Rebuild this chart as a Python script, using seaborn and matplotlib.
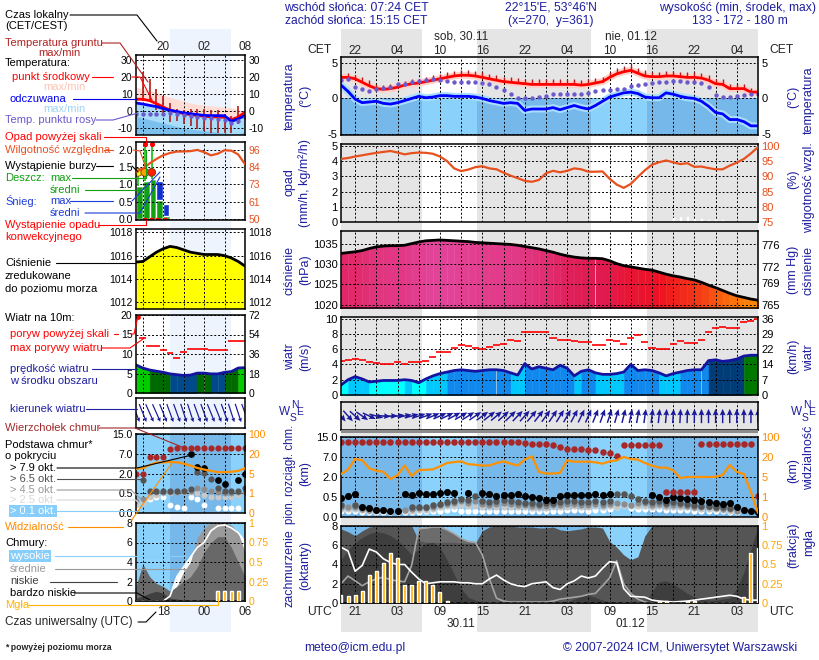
import numpy as np
import pandas as pd
import seaborn as sns
import matplotlib.pyplot as plt
from matplotlib.lines import Line2D
from matplotlib.colors import ListedColormap, BoundaryNorm, LinearSegmentedColormap, Normalize

sns.set_theme(style="white")
plt.rcParams["font.family"] = ["Liberation Sans", "DejaVu Sans"]
plt.rcParams["font.size"] = 8
plt.rcParams["axes.unicode_minus"] = False

nan = np.nan

# forecast time axis: hours since 29.11 19:00 UTC
start = pd.Timestamp("2024-11-29 19:00")
hours = np.arange(60)
days = ["2024-11-30", "2024-12-01"]
day_top = ["sob, 30.11", "nie, 01.12"]
day_bottom = ["30.11", "01.12"]
sunrise_cet, sunset_cet = "07:24", "15:15"

temp = [3.0, 3.0, 2.8, 2.3, 1.8, 1.4, 1.3, 1.4, 1.6, 1.9,
        2.1, 2.2, 2.4, 2.6, 2.8, 3.0, 3.2, 3.3, 3.3, 3.2,
        3.0, 2.8, 2.6, 2.4, 2.3, 2.2, 2.1, 2.0, 2.0, 2.0,
        2.0, 2.0, 2.0, 2.0, 1.9, 2.0, 2.2, 2.4, 3.0, 3.5,
        3.8, 4.0, 3.6, 3.2, 3.1, 3.1, 3.2, 3.2, 3.1, 3.0,
        3.0, 2.9, 2.6, 2.1, 2.0, 1.4, 1.4, 1.4, 0.9, 0.9]
feels = [1.9, 1.0, -0.1, -0.6, -0.5, -0.4, -0.7, -0.8, -0.6, -0.3,
         0.0, 0.3, 0.1, 0.2, 0.4, 0.4, 0.3, 0.3, 0.3, 0.2,
         0.0, -0.3, -0.5, -0.7, -0.6, -0.7, -1.7, -1.5, -1.5, -1.5,
         -1.3, -1.6, -1.3, -1.0, -1.3, -1.5, -1.0, -0.4, 0.2, 0.5,
         0.8, 0.9, 0.7, 0.2, 0.1, 0.1, 0.8, 0.6, 0.3, 0.1,
         0.0, -0.4, -1.1, -2.0, -2.2, -3.0, -3.0, -3.3, -3.9, -3.9]
dew = [2.6, 2.8, 1.7, 1.3, 1.1, 1.3, 1.5, 1.7, 2.0, 2.1,
       2.3, 2.5, 2.6, 2.7, 2.6, 2.5, 2.4, 2.4, 2.4, 2.3,
       2.2, 2.0, 1.7, 1.2, 0.6, 0.1, 0.1, 0.1, 0.2, 0.3,
       0.6, 0.6, 0.7, 0.7, 0.6, 0.8, 1.1, 1.2, 1.2, 1.3,
       1.4, 1.8, 1.9, 2.1, 2.2, 2.4, 2.4, 2.5, 2.5, 2.4,
       2.3, 2.2, 1.6, 0.5, 0.2, 0.2, 0.4, 0.5, 0.6, 0.7]
ground_top = [3.4, 3.6, 3.4, 3.1, 2.6, 2.1, 1.9, 2.0, 2.2, 2.5,
              2.7, 2.8, 3.0, 3.3, 3.5, 3.7, 3.9, 4.0, 4.0, 3.9,
              3.7, 3.5, 3.3, 3.1, 3.0, 2.9, 2.8, 2.8, 2.7, 2.8,
              2.7, 2.8, 2.7, 2.8, 2.6, 2.7, 2.9, 3.1, 3.7, 4.3,
              4.6, 4.9, 4.4, 4.0, 3.8, 3.8, 3.9, 3.9, 3.8, 3.7,
              3.7, 3.6, 3.3, 2.8, 2.7, 2.1, 2.1, 2.1, 1.5, 1.4]
humidity = [95.7, 96.0, 96.5, 96.9, 97.3, 97.7, 98.0, 98.3, 97.8, 97.2,
            97.6, 97.8, 97.7, 97.4, 96.5, 95.0, 92.6, 91.7, 92.2, 93.0,
            93.3, 92.6, 92.3, 91.2, 90.2, 89.4, 88.5, 88.2, 88.8, 91.0,
            91.8, 91.3, 91.8, 92.6, 92.3, 91.5, 91.5, 91.6, 89.2, 87.3,
            86.2, 87.5, 89.8, 92.0, 93.8, 94.6, 95.2, 94.6, 94.0, 94.3,
            93.1, 93.2, 92.7, 92.3, 92.3, 93.5, 94.5, 95.7, 97.5, 99.6]
precip = [0, 0, 0, 0, 0, 0, 0, 0, 0, 0,
          0, 0, 0, 0, 0, 0, 0, 0, 0, 0,
          0, 0, 0, 0, 0, 0, 0, 0, 0.02, 0.02,
          0.02, 0.02, 0.02, 0.02, 0, 0, 0, 0, 0, 0,
          0, 0, 0, 0, 0, 0, 0.03, 0.25, 0.3, 0.3,
          0.2, 0.2, 0.15, 0.15, 0.1, 0, 0, 0, 0.03, 0]
pressure = [1032.6, 1032.8, 1033.0, 1033.3, 1033.8, 1034.2, 1034.4, 1034.5, 1034.5, 1034.6,
            1035.0, 1035.4, 1035.7, 1035.8, 1035.9, 1035.8, 1035.7, 1035.6, 1035.5, 1035.3,
            1035.2, 1035.1, 1035.0, 1034.9, 1034.8, 1034.6, 1034.3, 1034.0, 1033.7, 1033.3,
            1032.9, 1032.4, 1032.0, 1031.7, 1031.5, 1031.4, 1031.4, 1031.3, 1030.8, 1030.1,
            1029.6, 1029.3, 1029.0, 1028.7, 1028.5, 1028.0, 1027.5, 1027.1, 1026.8, 1026.4,
            1026.1, 1025.5, 1024.8, 1024.2, 1023.5, 1022.8, 1022.2, 1021.8, 1021.4, 1021.1]
wind = [1.3, 2.0, 2.4, 2.1, 1.7, 1.8, 1.9, 1.9, 1.9, 2.0,
        1.9, 1.6, 2.1, 2.5, 2.8, 3.0, 3.2, 3.3, 3.2, 3.1,
        3.2, 3.3, 3.3, 3.2, 2.9, 2.6, 4.1, 3.4, 3.7, 3.5,
        3.3, 3.9, 3.5, 2.5, 3.1, 3.3, 2.9, 2.7, 2.7, 2.8,
        3.0, 4.0, 3.2, 3.3, 3.2, 2.9, 2.5, 2.8, 3.0, 3.2,
        3.3, 3.3, 4.5, 4.6, 4.4, 4.5, 4.7, 5.1, 5.2, 5.2]
gust = [4.5, 4.6, 4.7, 4.6, 4.3, 4.2, 4.1, 4.1, 4.3, 4.0,
        4.3, 4.3, 4.5, 5.0, 5.6, 5.6, 6.2, 6.5, 6.4, 6.1,
        6.0, 6.3, 6.5, 6.7, 7.2, 7.1, 8.3, 8.3, 8.3, 8.3,
        7.5, 7.2, 7.2, 7.0, 6.9, 6.9, 6.5, 6.5, 7.2, 7.0,
        6.7, 7.5, 7.8, 6.9, 6.2, 6.0, 6.0, 6.7, 7.0, 6.8,
        6.8, 7.2, 8.2, 8.7, 8.9, 8.7, 8.7, 9.6, 9.7, 9.9]
wind_dir = [320, 318, 312, 305, 295, 285, 275, 268, 262, 258,
            255, 252, 250, 248, 246, 244, 242, 240, 238, 236,
            234, 232, 230, 228, 226, 224, 222, 220, 218, 216,
            214, 212, 210, 208, 206, 204, 202, 200, 198, 196,
            194, 192, 190, 188, 187, 186, 185, 184, 183, 182,
            181, 180, 180, 180, 180, 180, 180, 180, 180, 180]
cloud_top = [12.9, 12.9, 12.9, 12.9, 12.9, 12.9, 12.9, 12.9, 12.9, 12.9,
             12.9, 12.9, 12.9, 12.9, 12.9, 12.9, 12.9, 12.9, 12.9, 12.9,
             12.9, 12.9, 12.9, 12.9, 12.9, 12.9, 12.6, 12.4, 12.2, 12.2,
             12.0, 11.2, 10.4, 10.4, 10.4, 9.7, 9.7, 9.2, 8.6, 7.3,
             12.0, 12.0, 12.0, 12.0, 12.0, 12.0, 0.9, 0.9, 0.9, 0.9,
             0.9, 12.3, 12.3, 12.3, 12.3, 12.3, 12.3, 12.3, 12.3, 0.55]
base_black = [0.48, 0.56, 0.75, 0.26, 0.22, 0.17, 0.17, 0.16, 0.16, 0.70,
              0.65, 0.78, 0.75, 0.75, 0.78, 0.85, 0.80, nan, 0.78, nan,
              0.78, 0.70, 0.56, 0.65, 0.65, 0.70, 0.56, 0.50, 0.48, 0.42,
              0.43, 0.56, 0.65, 0.65, 0.63, 0.63, 0.70, 0.63, 0.70, nan,
              nan, nan, nan, nan, 0.65, 0.50, 0.42, 0.50, 0.48, 0.46,
              0.42, 0.39, 0.37, 0.35, 0.32, 0.35, 0.26, 0.18, 0.15, 0.13]
base_dkgray = [0.29, nan, 0.30, nan, nan, nan, nan, nan, nan, nan,
               0.24, 0.26, 0.26, 0.30, 0.33, 0.38, 0.41, 0.45, 0.42, 0.55,
               0.40, 0.38, 0.40, 0.42, 0.40, 0.38, 0.36, 0.34, 0.33, 0.34,
               0.36, 0.38, 0.40, 0.40, 0.38, 0.38, 0.40, 0.38, 0.40, 0.70,
               0.70, 0.55, 0.45, 0.40, 0.38, 0.40, 0.36, 0.38, 0.36, 0.33,
               0.30, 0.28, 0.28, 0.26, 0.25, 0.22, nan, nan, nan, nan]
base_gray = [0.24, 0.25, 0.24, 0.20, 0.18, nan, nan, nan, nan, 0.18,
             0.20, 0.22, 0.22, 0.25, 0.30, 0.33, 0.35, 0.40, 0.36, 0.40,
             0.33, 0.30, 0.32, 0.34, 0.33, 0.31, 0.30, 0.28, 0.27, 0.28,
             0.30, 0.31, 0.33, 0.33, 0.31, 0.31, 0.33, 0.31, 0.33, 0.36,
             0.33, 0.30, 0.35, 0.34, 0.31, 0.33, 0.30, 0.31, 0.30, 0.28,
             0.26, 0.24, 0.24, 0.22, 0.21, 0.19, 0.15, nan, nan, nan]
base_lgray = [0.19, 0.20, 0.19, 0.17, 0.15, 0.14, 0.14, 0.14, 0.14, 0.15,
              0.16, 0.17, 0.18, 0.20, 0.24, 0.27, 0.28, 0.30, 0.28, 0.28,
              0.25, 0.24, 0.25, 0.26, 0.26, 0.25, 0.24, 0.23, 0.22, 0.23,
              0.24, 0.25, 0.26, 0.27, 0.26, 0.25, 0.27, 0.26, 0.28, 0.26,
              0.30, 0.27, 0.28, 0.27, 0.26, 0.27, 0.25, 0.26, 0.25, 0.24,
              0.22, 0.21, 0.20, 0.19, 0.18, 0.16, 0.14, nan, nan, nan]
base_white = [0.14, 0.14, 0.15, 0.13, 0.12, 0.12, 0.12, 0.12, 0.12, 0.12,
              0.13, 0.13, 0.14, 0.14, 0.16, 0.18, 0.19, 0.16, 0.16, 0.15,
              0.15, 0.15, 0.15, 0.16, 0.16, 0.16, 0.16, 0.15, 0.15, 0.16,
              0.16, 0.16, 0.17, 0.17, 0.17, 0.16, 0.17, 0.18, 0.20, 0.24,
              0.29, 0.22, 0.20, 0.19, 0.19, 0.19, 0.18, 0.18, 0.18, 0.17,
              0.16, 0.15, 0.15, 0.15, 0.14, 0.13, 0.12, nan, nan, nan]
visibility = [7.1, 10.7, 18.5, 17.5, 11.5, 9.7, 8.9, 4.6, 6.3, 13.6,
              5.8, 10.2, 10.4, 10.7, 13.0, 15.5, 16.2, 16.7, 14.6, 14.2,
              13.6, 13.6, 15.5, 16.7, 15.0, 13.6, 18.0, 23.0, 8.9, 7.6,
              7.6, 8.1, 17.5, 16.5, 16.5, 16.5, 16.0, 15.0, 16.7, 17.5,
              20.0, 18.5, 18.0, 15.5, 13.5, 12.0, 12.0, 10.0, 4.8, 5.0,
              5.0, 5.0, 5.0, 5.1, 6.5, 14.0, 8.9, 7.2, 2.0, 0.2]
cc_high = [5.8, 5.4, 3.3, 3.9, 5.6, 5.3, 4.6, 4.2, 4.0, 4.0,
           3.2, 2.5, 2.0, 2.1, 2.2, 2.2, 2.2, 2.1, 2.1, 2.0,
           2.0, 2.5, 2.9, 2.4, 2.0, 1.8, 1.7, 2.0, 2.1, 2.2,
           1.6, 1.4, 2.0, 2.3, 2.8, 2.6, 2.8, 3.6, 4.3, 4.2,
           1.5, 0.7, 0.65, 0.6, 0.3, 0.2, 0.15, 0.1, 0.15, 0.2,
           0.3, 0.4, 0.5, 0.6, 0.7, 0.8, 0.7, 0.4, 0.3, 0.3]
cc_medium = [2.0, 2.8, 2.3, 1.8, 2.2, 2.5, 2.7, 2.4, 2.3, 2.2,
             3.9, 7.7, 7.8, 7.9, 7.9, 7.6, 7.2, 6.7, 6.4, 6.3,
             5.0, 2.5, 0.5, 0.2, 0.1, 0.1, 0.1, 0.1, 0.1, 0.1,
             0.2, 0.4, 0.5, 0.6, 0.7, 0.9, 1.0, 1.8, 2.6, 4.4,
             2.0, 1.0, 0.4, 0.1, 0, 0, 0, 0, 0, 0,
             0, 0, 0, 0, 0, 0, 0, 0, 0, 0]
cc_low = [7.7, 7.4, 7.0, 7.5, 7.9, 8.0, 8.0, 8.0, 8.0, 8.0,
          8.0, 6.5, 6.3, 6.3, 6.3, 6.3, 6.3, 6.2, 6.2, 6.2,
          7.5, 7.9, 8.0, 8.0, 8.0, 7.9, 7.9, 7.9, 7.8, 7.8,
          7.9, 7.6, 7.5, 7.6, 7.7, 7.9, 7.9, 7.8, 6.4, 5.8,
          5.0, 4.5, 4.8, 7.0, 8.0, 8.0, 8.0, 8.0, 8.0, 8.0,
          8.0, 8.0, 8.0, 8.0, 8.0, 8.0, 8.0, 8.0, 8.0, 8.0]
cc_vlow = [4.5, 5.5, 6.3, 6.8, 7.2, 7.4, 7.3, 7.0, 6.5, 5.8,
           5.0, 5.6, 6.2, 6.3, 5.8, 4.5, 3.0, 1.5, 0.6, 0.3,
           0.1, 0, 0, 0, 0, 0, 0, 0, 0, 0,
           0, 0, 0.1, 0.4, 0.7, 0.8, 0.6, 0.3, 0.1, 0,
           0, 0, 0, 0, 1.2, 2.2, 2.3, 2.0, 1.5, 1.0,
           0.6, 0.4, 0.3, 0.3, 0.4, 0.5, 1.5, 3.2, 5.6, 7.9]
fog = [0.10, 0.09, 0.10, 0.16, 0.37, 0.42, 0.52, 0.65, 0.58, 0.23,
       0.23, 0.29, 0.28, 0.23, 0.14, 0.02, 0, 0, 0, 0,
       0, 0, 0, 0, 0, 0, 0, 0, 0, 0,
       0, 0, 0, 0, 0, 0, 0, 0, 0, 0,
       0, 0, 0, 0, 0, 0.03, 0.03, 0, 0, 0.02,
       0.03, 0, 0, 0, 0, 0, 0, 0.08, 0.65, 0.72]

# legend column: sample meteogram (hours since 14 UTC, local time CEST)
s_start = pd.Timestamp("2024-06-01 14:00")
s_hours = np.arange(17)
s_temp = [7.0, 7.0, 6.2, 4.4, 2.4, 0.6, -0.4, -1.4, -2.0, -2.5, -3.0, -3.3, -3.4, -3.6, -5.0, -3.5, -0.6]
s_tmax = [14.0, 13.2, 12.2, 11.0, 9.6, 8.2, 7.0, 5.8, 4.8, 4.0, 3.5, 3.1, 2.7, 2.4, 2.0, 1.0, -0.6]
s_feel = [4.8, 4.2, 3.4, 2.7, 1.5, 0.5, -0.2, -1.0, -1.5, -2.0, -2.5, -2.6, -2.6, -2.7, -6.0, -4.5, -2.6]
s_fmin = [-3.0, -4.0, -5.0, -6.0, -7.0, -8.0, -9.0, -10.0, -10.5, -11.0, -11.5, -12.0, -12.5, -13.0, -13.5, -13.5, -12.0]
s_dew = [-1.6, -1.6, -1.5, -1.8, -1.6, -1.2, -1.4, -2.0, -2.6, -3.2, -3.8, -4.3, -4.6, -5.0, -6.8, -6.0, -3.5]
s_gmax = [nan, 23, 19, 13, 9, 5, 1.4, 0.4, 1.4, 1.4, 1.4, 0.4, 0.4, -1.6, -2.6, 3.0, nan]
s_gmin = [nan, 6, 6, 0.4, -2.6, -6.6, -5.6, -7.6, -8.6, -10.6, -11.6, -12.6, -12.6, -13.0, -13.0, -7.6, nan]
s_hum = [81.6, 83.5, 87.0, 90.0, 92.5, 94.0, 94.9, 95.0, 95.2, 96.0, 94.5, 92.4, 93.5, 95.8, 95.5, 93.0, 86.5]
s_rain = [0.95, 1.1, 1.15, 0.55, 0.1, 0.03, 0, 0, 0, 0, 0, 0, 0, 0, 0, 0, 0]
s_snow = [0, 0, 0, 0.55, 0.33, 0, 0, 0, 0, 0, 0, 0, 0, 0, 0, 0, 0]
s_rain_max = [1.35, 2.4, 2.4, nan, nan, nan, nan, nan, nan, nan, nan, nan, nan, nan, nan, nan, nan]
s_storm = [1, 2, 3, 0, 0, 0, 0, 0, 0, 0, 0, 0, 0, 0, 0, 0, 0]
s_conv = [0, 1, 1, 1, 1, 0, 0, 0, 0, 0, 0, 0, 0, 0, 0, 0, 0]
s_pres = [1015.45, 1015.5, 1015.9, 1016.3, 1016.6, 1016.8, 1016.7, 1016.5, 1016.3,
          1016.2, 1016.1, 1016.1, 1016.1, 1016.0, 1015.8, 1015.5, 1015.1]
s_wind = [7.2, 6.4, 5.9, 5.6, 5.3, 4.9, 4.7, 4.5, 4.6, 5.1, 5.1, 4.9, 4.9, 5.3, 5.5, 6.4, 6.5]
s_gust = [nan, 14.1, 12.1, 12.1, 10.9, 10.2, 9.1, 10.5, 11.3, 11.3, 11.3, 10.9, 10.9, 10.9, 13.4, 13.4, 13.4]
s_gust_over = [1, 0, 0, 0, 0, 0, 0, 0, 0, 0, 0, 0, 0, 0, 0, 0, 0]
s_wdir = [338, 338, 336, 336, 338, 340, 340, 342, 342, 340, 340, 338, 338, 340, 342, 342, 340]
s_top = [2.0, 2.0, 6.2, 6.2, 6.2, 9.0, 9.5, 9.5, 9.5, 9.5, 9.5, 9.5, 9.5, 9.5, 9.5, 9.5, 9.5]
s_black = [nan, nan, nan, nan, nan, nan, nan, nan, 7.0, 3.6, 3.3, nan, 1.5, 1.2, nan, 1.5, 2.0]
s_dkgray = [nan, 1.5, 0.65, 0.65, 0.65, 0.65, 0.65, 0.7, 0.8, 2.5, 2.2, 1.6, 0.9, 0.7, 0.7, 0.7, 0.9]
s_gray = [0.3, 0.35, 0.6, 0.6, 0.6, 0.6, 0.6, 0.65, 0.7, 0.9, 0.8, 0.7, 0.6, 0.55, 0.55, 0.6, 0.6]
s_lgray = [0.2, 0.25, 0.4, 0.45, 0.5, 0.55, 0.6, 0.6, 0.6, 0.5, 0.45, 0.4, 0.4, 0.4, 0.4, 0.45, 0.5]
s_white = [0.15, 0.3, 0.35, 0.4, 0.4, 0.2, 0.15, 0.12, 0.4, 0.35, 0.2, nan, 0.12, 0.12, 0.12, 0.12, nan]
s_vis = [8.6, 9.0, 11.5, 13.3, 13.5, 13.8, 13.5, 12.5, 11.0, 9.2, 8.0, 7.0, 6.0, 6.0, 6.3, 7.0, 9.0]
s_high = [0, 0, 0, 0, 0, 0.5, 2.5, 3.5, 4.5, 5.5, 6.0, 7.2, 7.7, 7.8, 7.5, 7.0, 6.1]
s_medium = [0, 0, 0, 0, 0, 0, 1.5, 3.0, 4.0, 6.5, 7.5, 8.0, 8.0, 8.0, 7.8, 7.0, 5.0]
s_low = [1.5, 3.8, 2.5, 1.8, 1.5, 1.0, 1.5, 2.0, 2.5, 3.5, 5.0, 6.0, 6.6, 6.6, 5.5, 4.0, 2.5]
s_vlow = [0.3, 0.5, 0.8, 1.0, 0.8, 0.3, 0.2, 0.1, 0, 0, 0, 0, 0, 0, 0, 0, 0]
s_fog = [0, 0, 0, 0, 0, 0, 0, 0, 0, 0, 0, 0, 0.13, 0.13, 0.13, 0.13, 0]

base_ticks = [0, 0.5, 2, 7, 15]
vis_ticks = [0, 1, 5, 20, 100]

# ---------------------------------------------------------------- layout
W, H = 820, 660
fig = plt.figure(figsize=(8.2, 6.6), dpi=100)
NAVY = "#1f1fa0"
NIGHT = "#e5e5e5"
BLUE_DAY, BLUE_NIGHT = "#8ad2fc", "#76b8ea"
GRID = dict(color="black", linestyle=(0, (2, 2)), linewidth=0.7)
X0, X1 = 341, 758
SX0, SX1 = 136, 245
SMALL_TICK = 7.5


def box(l, t, r, b):
    return fig.add_axes([l / W, 1 - b / H, (r - l) / W, (b - t) / H])


def ftext(x, y, s, **kw):
    kw.setdefault("va", "center")
    return fig.text(x / W, 1 - y / H, s, **kw)


def lead(color, pts):
    fig.add_artist(Line2D([p[0] / W for p in pts], [1 - p[1] / H for p in pts], color=color, lw=0.8))


def hrs(ts):
    return (pd.Timestamp(ts) - start) / pd.Timedelta(hours=1)


def scale_fns(ticks):
    pos = np.arange(len(ticks))
    return (lambda v: np.interp(v, ticks, pos), lambda p: np.interp(p, pos, ticks))


rise = [hrs(f"{d} {sunrise_cet}") - 1 for d in days]
sset = [hrs(f"{d} {sunset_cet}") - 1 for d in days]
nights = [(0, rise[0]), (sset[0], rise[1]), (sset[1], 59)]
noon = [hrs(f"{d} 12:00") for d in days]
grid_h = np.arange(2, 59, 3)
label_h = grid_h[::2]
cet_lab = [(start + pd.Timedelta(hours=int(h) + 1)).strftime("%H") for h in label_h]
utc_lab = [(start + pd.Timedelta(hours=int(h))).strftime("%H") for h in label_h]


def style(ax, xticks, size=8):
    ax.set_xticks(xticks)
    ax.tick_params(axis="x", length=0, labelbottom=False)
    ax.tick_params(axis="y", length=0, pad=2.5, labelsize=size, labelcolor="black")
    ax.grid(True, **GRID)
    ax.set_axisbelow(False)
    for s in ax.spines.values():
        s.set_color("black")
        s.set_linewidth(1.1)
        s.set_zorder(6)


def right(ax2, color="black", size=8):
    ax2.tick_params(axis="y", length=0, pad=2.5, labelsize=size, labelcolor=color)
    for s in ax2.spines.values():
        s.set_visible(False)


def panel(t, b, night_color=NIGHT, face="white"):
    ax = box(X0, t, X1, b)
    ax.set_facecolor(face)
    for a, z in nights:
        ax.axvspan(a, z, color=night_color, lw=0, zorder=0)
    style(ax, grid_h)
    return ax


def spanel(t, b, face=None):
    ax = box(SX0, t, SX1, b)
    if face:
        ax.set_facecolor(face)
        ax.axvspan(5, 14, color=BLUE_NIGHT, lw=0, zorder=0)
    else:
        ax.patch.set_alpha(0)
    style(ax, [1, 4, 7, 10, 13], SMALL_TICK)
    return ax


all_main, all_small = [], []

# background columns (day / night bands)
bgm = box(X0, 29, X1, 632)
bgm.set_zorder(-1)
for a, z in nights:
    bgm.axvspan(a, z, color=NIGHT, lw=0)
bgm.set_xlim(0, 59)
bgm.set_ylim(0, 1)
bgm.axis("off")
yb = lambda y: (632 - y) / 603
for h, lc, lu in zip(label_h, cet_lab, utc_lab):
    bgm.text(h, yb(51), lc, ha="center", va="center", size=8.5)
    bgm.text(h, yb(612), lu, ha="center", va="center", size=8.5)
for n, dt, dbm in zip(noon, day_top, day_bottom):
    bgm.text(n, yb(37), dt, ha="center", va="center", size=8.5)
    bgm.text(n, yb(624), dbm, ha="center", va="center", size=8.5)

bgl = box(SX0, 29, SX1, 632)
bgl.set_zorder(-1)
bgl.axvspan(5, 14, color="#edf4fe", lw=0)
bgl.set_xlim(0, 16)
bgl.set_ylim(0, 1)
bgl.axis("off")
for h in [4, 10, 16]:
    bgl.text(h, yb(47), (s_start + pd.Timedelta(hours=h + 2)).strftime("%H"), ha="center", va="center", size=8.5)
    bgl.text(h, yb(612), (s_start + pd.Timedelta(hours=h)).strftime("%H"), ha="center", va="center", size=8.5)

# ---------------------------------------------------------------- temperature
ax = panel(57, 135)
ax.set_ylim(-5.2, 5.9)
ax.fill_between([0, 59], -5.2, 0, color=BLUE_DAY, lw=0, zorder=0.3)
for a, z in nights:
    ax.fill_between([a, z], -5.2, 0, color=BLUE_NIGHT, lw=0, zorder=0.4)
sns.lineplot(x=hours, y=temp, ax=ax, color="#ffd0c8", linewidth=5, zorder=2)
sns.lineplot(x=hours, y=feels, ax=ax, color="#a8defc", linewidth=5, zorder=2)
ax.vlines(hours, temp, ground_top, color="#b01c1c", lw=1, zorder=3)
sns.lineplot(x=hours, y=temp, ax=ax, color="red", linewidth=2, zorder=4)
sns.lineplot(x=hours, y=feels, ax=ax, color="#0000ff", linewidth=2, zorder=4)
sns.scatterplot(x=hours, y=dew, ax=ax, color="#6a5acd", s=10, linewidth=0, zorder=5)
ax.set_yticks([-5, 0, 5])
ax.tick_params(axis="y", labelright=True)
all_main.append(ax)

# ---------------------------------------------------------------- precipitation / humidity
ax = panel(144, 222)
ax.set_ylim(0, 5.12)
ax.set_yticks(range(6))
ax.bar(hours, precip, width=0.15, color="#00b400", zorder=3)
tw = ax.twinx()
sns.lineplot(x=hours, y=humidity, ax=tw, color="#e8501e", linewidth=1.6)
tw.set_ylim(75, 100.6)
tw.set_yticks(range(75, 101, 5))
right(tw, "#e8501e")
all_main += [ax, tw]

# ---------------------------------------------------------------- pressure
ax = panel(231, 308)
plo, phi = 1019.2, 1038.1
p_cmap = LinearSegmentedColormap.from_list(
    "pres", [(0, "#ff9a00"), (0.25, "#f85a10"), (0.5, "#ee1020"), (0.7, "#e01a50"), (1, "#e2449a")])
p_norm = Normalize(1020, 1036)
for i in range(59):
    c = p_cmap(p_norm(np.mean(pressure[i:i + 2])))
    ax.fill_between(hours[i:i + 2], plo, pressure[i:i + 2], color=c, lw=0.3, zorder=1)
sns.lineplot(x=hours, y=pressure, ax=ax, color="black", linewidth=2, zorder=4)
ax.set_ylim(plo, phi)
ax.set_yticks(range(1020, 1036, 5))
sec = ax.secondary_yaxis("right", functions=(lambda p: p * 0.750062, lambda m: m / 0.750062))
sec.set_yticks([765, 769, 772, 776])
right(sec)
all_main.append(ax)

# ---------------------------------------------------------------- wind speed / gusts
ax = panel(317, 395)
w_cmap = ListedColormap(["#00ffff", "#00c8ff", "#1188ee", "#003c78", "#007800"])
w_norm = BoundaryNorm([0, 2.0, 2.95, 4.3, 5.0, 30], 5)
for i in range(59):
    ax.fill_between(hours[i:i + 2], 0, wind[i:i + 2], color=w_cmap(w_norm(wind[i])), lw=0.3, zorder=1)
sns.lineplot(x=hours, y=wind, ax=ax, color="#1414a0", linewidth=2, zorder=4)
ax.hlines(gust, hours - 0.5, hours + 0.5, color="red", lw=1.2, zorder=4)
ax.set_ylim(0, 10.2)
ax.set_yticks(range(0, 11, 2))
sec = ax.secondary_yaxis("right", functions=(lambda v: v * 3.6, lambda k: k / 3.6))
sec.set_yticks([v * 3.6 for v in range(0, 11, 2)], labels=[f"{v * 3.6:.0f}" for v in range(0, 11, 2)])
right(sec)
all_main.append(ax)

# ---------------------------------------------------------------- wind direction
ax = panel(402, 430)
ax.set_ylim(0, 1)
ax.set_yticks([])
rad = np.deg2rad(wind_dir)
ax.quiver(hours, np.full(60, 0.5), -np.sin(rad), -np.cos(rad), pivot="middle", color="#1a1a9a",
          scale=7.0, scale_units="inches", width=0.0035, headwidth=4, headlength=4.5,
          headaxislength=4, zorder=4)
all_main.append(ax)
gb = box(X0, 430, X1, 433)
gb.set_facecolor("#8c8c8c")
gb.set_xticks([])
gb.set_yticks([])
for s in gb.spines.values():
    s.set_visible(False)

# ---------------------------------------------------------------- cloud base / visibility
ax = panel(437, 517, night_color=BLUE_NIGHT, face=BLUE_DAY)
ax.set_yscale("function", functions=scale_fns(base_ticks))
for vals, col, sz in [(base_white, "white", 20), (base_lgray, "#c8c8c8", 20),
                      (base_gray, "#8c8c8c", 20), (base_dkgray, "#555555", 22),
                      (base_black, "black", 26), (cloud_top, "#a82828", 22)]:
    sns.scatterplot(x=hours, y=vals, ax=ax, color=col, s=sz, linewidth=0, zorder=4)
ax.set_ylim(0, 15)
ax.set_yticks(base_ticks, labels=["0.0", "0.5", "2.0", "7.0", "15.0"])
tw = ax.twinx()
tw.set_yscale("function", functions=scale_fns(vis_ticks))
sns.lineplot(x=hours, y=visibility, ax=tw, color="#ff9000", linewidth=1.6)
tw.set_ylim(0, 100)
tw.set_yticks(vis_ticks, labels=[str(v) for v in vis_ticks])
right(tw, "#ff8c00")
all_main += [ax, tw]

# ---------------------------------------------------------------- cloud cover / fog
ax = panel(526, 603, night_color=BLUE_NIGHT, face=BLUE_DAY)
ax.fill_between(hours, 0, cc_high, color="white", lw=0, zorder=1)
ax.fill_between(hours, 0, cc_medium, color="#6c6c6c", lw=0, zorder=1.1)
ax.fill_between(hours, 0, cc_low, color="#555555", lw=0, zorder=1.2)
ax.fill_between(hours, 0, cc_vlow, color="#3e3e3e", lw=0, zorder=1.3)
sns.lineplot(x=hours, y=cc_medium, ax=ax, color="#a4a4a4", linewidth=1.2, zorder=3)
sns.lineplot(x=hours, y=cc_high, ax=ax, color="white", linewidth=1.2, zorder=3)
ax.set_ylim(0, 8)
ax.set_yticks(range(0, 9, 2))
tw = ax.twinx()
tw.bar(hours, fog, width=0.42, color="#ffb000", zorder=3)
tw.set_ylim(0, 1)
tw.set_yticks([0, 0.25, 0.5, 0.75, 1], labels=["0", "0.25", "0.5", "0.75", "1"])
right(tw, "#ffa500")
all_main += [ax, tw]

for a in all_main:
    a.set_xlim(0, 59)

# ---------------------------------------------------------------- legend column panels
ax = spanel(55, 135)
ax.fill_between([0, 16], -14, 0, color="#7cc0ee", lw=0, zorder=0.5)
ax.fill_between(s_hours, s_temp, s_tmax, color="#ffdcd4", lw=0, zorder=1)
ax.fill_between(s_hours, s_fmin, s_feel, color="#a8dcf8", lw=0, zorder=1.1)
ax.vlines(s_hours, s_gmin, s_gmax, color="#b01c1c", lw=1.2, zorder=3)
sns.lineplot(x=s_hours, y=s_temp, ax=ax, color="red", linewidth=2, zorder=4)
sns.lineplot(x=s_hours, y=s_feel, ax=ax, color="#0000ff", linewidth=2, zorder=4)
sns.scatterplot(x=s_hours, y=s_dew, ax=ax, color="#6a5acd", s=10, linewidth=0, zorder=5)
ax.set_ylim(-14, 33)
ax.set_yticks([-10, 0, 10, 20, 30])
ax.tick_params(axis="y", labelright=True)
all_small.append(ax)

ax = spanel(142, 220)
ax.bar(s_hours, s_rain, width=1, align="edge", color="#10a010", zorder=2)
ax.bar(s_hours, s_snow, bottom=s_rain, width=0.9, align="edge", color="#1030d0", zorder=2)
rmax = np.array(s_rain_max)
ax.vlines(s_hours + 0.3, s_rain, np.minimum(rmax, 2.17), color="#10c010", lw=1.2, zorder=3)
over = rmax > 2.2
sns.scatterplot(x=s_hours[over] + 0.3, y=np.full(over.sum(), 2.17), ax=ax, color="red", s=14,
                linewidth=0, zorder=5)
storm = np.array(s_storm)
sns.scatterplot(x=s_hours[storm > 0] + 0.3, y=np.full((storm > 0).sum(), 1.35), ax=ax,
                hue=storm[storm > 0], palette={1: "#ffee00", 2: "#ffa000", 3: "#ff2000"},
                s=32, edgecolor="#6a3a00", linewidth=0.6, legend=False, zorder=5)
conv = np.array(s_conv) > 0
ax.hlines(np.zeros(conv.sum()), s_hours[conv], s_hours[conv] + 1, color="red", lw=1.6,
          linestyle=(0, (2, 1.5)), zorder=5)
ax.set_ylim(-0.03, 2.23)
ax.set_yticks([0, 0.5, 1, 1.5, 2], labels=["0.0", "0.5", "1.0", "1.5", "2.0"])
tw = ax.twinx()
sns.lineplot(x=s_hours, y=s_hum, ax=tw, color="#e8501e", linewidth=1.6)
tw.set_ylim(50 - 23 * 0.03, 50 + 23 * 2.23)
tw.set_yticks([50 + 23 * v for v in (0, 0.5, 1, 1.5, 2)],
              labels=[f"{int(50 + 23 * v)}" for v in (0, 0.5, 1, 1.5, 2)])
right(tw, "#e8501e", SMALL_TICK)
all_small += [ax, tw]

ax = spanel(229, 309)
ax.fill_between(s_hours, 1011.4, s_pres, color="#ffff00", lw=0, zorder=1)
sns.lineplot(x=s_hours, y=s_pres, ax=ax, color="black", linewidth=2, zorder=4)
ax.set_ylim(1011.4, 1018.3)
ax.set_yticks([1012, 1014, 1016, 1018])
ax.tick_params(axis="y", labelright=True)
all_small.append(ax)

ax = spanel(315, 393)
sw_cmap = ListedColormap(["#004a8c", "#006a00", "#00cc00"])
sw_norm = BoundaryNorm([0, 5.05, 6.3, 30], 3)
for i in range(16):
    ax.fill_between(s_hours[i:i + 2], 0, s_wind[i:i + 2], color=sw_cmap(sw_norm(s_wind[i])), lw=0.3, zorder=1)
sns.lineplot(x=s_hours, y=s_wind, ax=ax, color="#1414a0", linewidth=2, zorder=4)
ax.hlines(s_gust, s_hours - 0.5, s_hours + 0.5, color="red", lw=1.2, zorder=4)
go = np.array(s_gust_over) > 0
sns.scatterplot(x=s_hours[go] + 0.3, y=np.full(go.sum(), 19.4), ax=ax, color="red", s=12, linewidth=0, zorder=5)
ax.set_ylim(0, 20)
ax.set_yticks([0, 5, 10, 15, 20])
sec = ax.secondary_yaxis("right", functions=(lambda v: v * 3.6, lambda k: k / 3.6))
sec.set_yticks([0, 18, 36, 54, 72])
right(sec, size=SMALL_TICK)
all_small.append(ax)

ax = spanel(398, 428)
ax.set_ylim(0, 1)
ax.set_yticks([])
srad = np.deg2rad(s_wdir)
ax.quiver(s_hours, np.full(17, 0.5), -np.sin(srad), -np.cos(srad), pivot="middle", color="#1a1a9a",
          scale=5.2, scale_units="inches", width=0.011, headwidth=3.5, headlength=3.5,
          headaxislength=3, zorder=4)
all_small.append(ax)

ax = spanel(434, 513, face=BLUE_DAY)
ax.set_yscale("function", functions=scale_fns(base_ticks))
for vals, col, sz in [(s_white, "white", 18), (s_lgray, "#c8c8c8", 18), (s_gray, "#8c8c8c", 18),
                      (s_dkgray, "#555555", 20), (s_black, "black", 24), (s_top, "#a82828", 20)]:
    sns.scatterplot(x=s_hours, y=vals, ax=ax, color=col, s=sz, linewidth=0, zorder=4)
ax.set_ylim(0, 15)
ax.set_yticks(base_ticks, labels=["0.0", "0.5", "2.0", "7.0", "15.0"])
tw = ax.twinx()
tw.set_yscale("function", functions=scale_fns(vis_ticks))
sns.lineplot(x=s_hours, y=s_vis, ax=tw, color="#ff9000", linewidth=1.6)
tw.set_ylim(0, 100)
tw.set_yticks(vis_ticks, labels=[str(v) for v in vis_ticks])
right(tw, "#ff8c00", SMALL_TICK)
all_small += [ax, tw]

ax = spanel(523, 601, face=BLUE_DAY)
ax.fill_between(s_hours, 0, s_high, color="white", lw=0, zorder=1)
ax.fill_between(s_hours, 0, s_medium, color="#9a9a9a", lw=0, zorder=1.1)
ax.fill_between(s_hours, 0, s_low, color="#686868", lw=0, zorder=1.2)
ax.fill_between(s_hours, 0, s_vlow, color="#404040", lw=0, zorder=1.3)
sns.lineplot(x=s_hours, y=s_high, ax=ax, color="white", linewidth=1.2, zorder=3)
ax.set_ylim(0, 8)
ax.set_yticks(range(0, 9, 2))
tw = ax.twinx()
tw.bar(s_hours, s_fog, width=0.4, color="#ffb000", zorder=3)
tw.set_ylim(0, 1)
tw.set_yticks([0, 0.25, 0.5, 0.75, 1], labels=["0", "0.25", "0.5", "0.75", "1"])
right(tw, "#ffa500", SMALL_TICK)
all_small += [ax, tw]

for a in all_small:
    a.set_xlim(0, 16)

# ---------------------------------------------------------------- texts
ftext(356, 8, "wschód słońca: " + sunrise_cet + " CET", color=NAVY, size=8.7, ha="center")
ftext(356, 21, "zachód słońca: " + sunset_cet + " CET", color=NAVY, size=8.7, ha="center")
ftext(551, 8, "22°15'E, 53°46'N", color=NAVY, size=8.7, ha="center")
ftext(551, 21, "(x=270,  y=361)", color=NAVY, size=8.7, ha="center")
ftext(738, 8, "wysokość (min, środek, max)", color=NAVY, size=8.7, ha="center")
ftext(740, 21, "133 - 172 - 180 m", color=NAVY, size=8.7, ha="center")
ftext(320, 50, "CET", size=8.7, ha="center")
ftext(782, 50, "CET", size=8.7, ha="center")
ftext(320, 612, "UTC", size=8.7, ha="center")
ftext(782, 612, "UTC", size=8.7, ha="center")
ftext(355, 648, "meteo@icm.edu.pl", color=NAVY, size=8.7, ha="center")
ftext(680, 648, "© 2007-2024 ICM, Uniwersytet Warszawski", color=NAVY, size=8.7, ha="center")
ftext(5, 648, "* powyżej poziomu morza", size=6.3, weight="bold")

AXL = dict(color=NAVY, size=9, rotation=90, ha="center", multialignment="center")
for txt, x, y in [("temperatura", 290, 96), ("(°C)", 305, 96), ("opad", 290, 182),
                  ("(mm/h, kg/m²/h)", 305, 183), ("ciśnienie", 290, 270), ("(hPa)", 305, 270),
                  ("wiatr", 290, 357), ("(m/s)", 305, 357), ("(km)", 305, 474),
                  ("zachmurzenie", 290, 568), ("(oktanty)", 305, 565),
                  ("(°C)", 793, 97), ("temperatura", 809, 100), ("(%)", 793, 179),
                  ("wilgotność wzgl.", 809, 188), ("(mm Hg)", 793, 270), ("ciśnienie", 809, 270),
                  ("(km/h)", 793, 356), ("wiatr", 809, 358), ("(km)", 793, 471),
                  ("widzialność", 809, 458), ("(frakcja)", 793, 545), ("mgła", 809, 542)]:
    ftext(x, y, txt, **AXL)
ftext(290, 474, "pion. rozciągł. chm.", **{**AXL, "size": 8.3})
for cx in (285, 797):
    for letter, dx, dy, sz in [("W", 0, 412, 8.5), ("N", 10, 405, 7.5), ("E", 15, 412, 7.5), ("S", 8, 418, 7.5)]:
        ftext(cx + dx, dy, letter, color=NAVY, size=sz, ha="center")

LEG = [("Czas lokalny", 5, 15, "black"), ("(CET/CEST)", 5, 26, "black"),
       ("Temperatura gruntu", 5, 43, "#b22222"), ("max/min", 38, 53, "#b22222"),
       ("Temperatura:", 5, 63, "black"), ("punkt środkowy", 12, 77, "red"),
       ("max/min", 43, 87, "#ffc4b4"), ("odczuwana", 10, 99, "#0000ee"),
       ("max/min", 43, 109, "#a0d4f4"), ("Temp. punktu rosy", 5, 120, "#6a5acd"),
       ("Opad powyżej skali", 5, 137, "red"), ("Wilgotność względna", 5, 150, "#e8501e"),
       ("Wystąpienie burzy", 5, 166, "black"), ("Deszcz:", 5, 178, "#10a010"),
       ("max", 50, 178, "#10a010"), ("średni", 50, 190, "#10a010"),
       ("Śnieg:", 5, 201, "#1e3cdc"), ("max", 50, 201, "#1e3cdc"), ("średni", 50, 213, "#1e3cdc"),
       ("Wystąpienie opadu", 5, 225, "red"), ("konwekcyjnego", 5, 237, "red"),
       ("Ciśnienie", 5, 263, "black"), ("zredukowane", 5, 276, "black"),
       ("do poziomu morza", 5, 289, "black"), ("Wiatr na 10m:", 5, 318, "black"),
       ("poryw powyżej skali", 10, 334, "red"), ("max porywy wiatru", 10, 348, "red"),
       ("prędkość wiatru", 10, 369, NAVY), ("w środku obszaru", 10, 381, NAVY),
       ("kierunek wiatru", 10, 409, NAVY), ("Wierzchołek chmur", 5, 428, "#a02828"),
       ("Podstawa chmur*", 5, 445, "black"), ("o pokryciu", 5, 456, "black"),
       ("> 7.9 okt.", 10, 468, "black"), ("> 6.5 okt.", 10, 479, "#505050"),
       ("> 4.5 okt.", 10, 490, "#999999"), ("> 2.5 okt.", 10, 500, "#d8d8d8"),
       ("Widzialność", 5, 527, "#ff8c00"), ("Chmury:", 5, 543, "black"),
       ("średnie", 10, 569, "#999999"), ("niskie", 10, 581, "#404040"),
       ("bardzo niskie", 10, 593, "black"), ("Mgła", 5, 605, "#ffb400")]
for txt, x, y, col in LEG:
    ftext(x, y, txt, color=col, size=8)
for txt, y in [("> 0.1 okt.", 511), ("wysokie", 556)]:
    ftext(10, y, txt, color="white", size=8,
          bbox=dict(facecolor="#87cefa", edgecolor="none", boxstyle="square,pad=0.1"))
ftext(5, 622, "Czas uniwersalny (UTC)", size=8.5)

leaders = [
    ("black", [(70, 15), (137, 15), (157, 41)]),
    ("#b22222", [(102, 43), (120, 43), (148, 82)]),
    ("red", [(92, 77), (113, 77)]),
    ("red", [(132, 77), (140, 77), (152, 100)]),
    ("#0000ee", [(73, 99), (137, 99)]),
    ("#6a5acd", [(96, 120), (113, 120), (138, 113)]),
    ("red", [(104, 137), (146, 137), (146, 146)]),
    ("#e8501e", [(104, 150), (113, 150)]),
    ("#e8501e", [(133, 150), (140, 151), (146, 168)]),
    ("black", [(96, 166), (113, 166)]),
    ("black", [(132, 166), (138, 172)]),
    ("#10a010", [(72, 178), (146, 178), (146, 150)]),
    ("#10a010", [(85, 190), (140, 190)]),
    ("#1e3cdc", [(70, 201), (113, 201)]),
    ("#1e3cdc", [(132, 201), (160, 172)]),
    ("#1e3cdc", [(85, 213), (140, 213), (160, 177)]),
    ("red", [(98, 225), (146, 225), (146, 220)]),
    ("black", [(56, 263), (135, 263)]),
    ("red", [(114, 334), (118, 334)]),
    ("red", [(131, 334), (134, 334), (138, 316)]),
    ("red", [(101, 348), (130, 348), (143, 339)]),
    (NAVY, [(92, 369), (137, 369)]),
    (NAVY, [(86, 409), (137, 409)]),
    ("#a02828", [(99, 428), (135, 428), (182, 447)]),
    ("black", [(57, 468), (137, 468), (192, 455)]),
    ("#505050", [(57, 479), (143, 479), (143, 484)]),
    ("#999999", [(57, 490), (131, 490), (142, 500)]),
    ("#d8d8d8", [(57, 500), (136, 500), (140, 505)]),
    ("#87cefa", [(57, 511), (137, 511)]),
    ("#ff8c00", [(68, 527), (123, 527)]),
    ("#ff8c00", [(131, 521), (172, 463)]),
    ("#87cefa", [(55, 556), (186, 556)]),
    ("#999999", [(55, 569), (193, 569)]),
    ("#404040", [(50, 582), (117, 582)]),
    ("black", [(74, 593), (137, 593), (150, 600)]),
    ("#ffb400", [(28, 605), (218, 605), (218, 598)]),
    ("black", [(138, 622), (146, 622), (156, 612)]),
]
for col, pts in leaders:
    lead(col, pts)

fig.savefig("out.png", dpi=100)
